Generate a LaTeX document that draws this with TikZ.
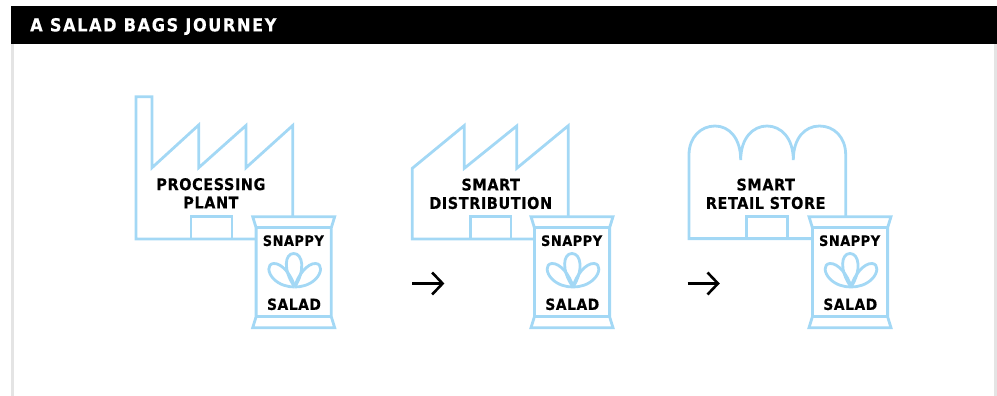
\documentclass[tikz,border=0pt]{standalone}
\usepackage{fontspec}
\setmainfont{DejaVu Sans}
\newfontfamily\lbl[LetterSpace=3.4,FakeBold=0.25]{DejaVu Sans Condensed Bold}
\newfontfamily\snp[LetterSpace=3.5,FakeBold=0.25]{DejaVu Sans Condensed Bold}
\newfontfamily\ttl[LetterSpace=8.6,FakeBold=0.25]{DejaVu Sans Condensed Bold}
\definecolor{sky}{HTML}{A3D8F5}
\definecolor{edgegrey}{HTML}{E4E4E4}
\tikzset{
  x=1pt,y=-1pt,
  outline/.style={draw=sky,line width=2.8pt,line join=miter,miter limit=10},
  lbltext/.style={inner sep=0pt,align=center,font=\lbl\fontsize{16.1}{18.4}\selectfont,text=black},
  bagtext/.style={inner sep=0pt,font=\snp\fontsize{14.4}{17}\selectfont,text=black},
  bagtextwide/.style={inner sep=0pt,font=\snp\fontsize{15.4}{17}\selectfont,text=black},
  goarrow/.style={draw=black,line width=2.6pt},
  bag/.pic={
    \path[outline,fill=white] (-41,216.7) -- (41,216.7) -- (37.6,227.7) -- (37.6,316.7) -- (41,327.7) -- (-41,327.7) -- (-37.6,316.7) -- (-37.6,227.7) -- cycle;
    \draw[outline] (-37.6,227.7) -- (37.6,227.7) (-37.6,316.7) -- (37.6,316.7);
    \draw[outline,line join=round] (1,287) .. controls (-11,270) and (-9,253.5) .. (0,253.5) .. controls (9,253.5) and (12,270) .. (1,287);
    \draw[outline,line join=round] (1,287) .. controls (-2,275) and (-12,263) .. (-20,263.5) .. controls (-27,264) and (-26,273) .. (-20,279) .. controls (-14,285) and (-6,287) .. (1,287);
    \draw[outline,line join=round] (1,287) .. controls (4,275) and (14,263) .. (22,263.5) .. controls (29,264) and (28,273) .. (22,279) .. controls (16,285) and (8,287) .. (1,287);
    \node[bagtext] (-snappy) at (-0.4,240.7) {SNAPPY};
    \node[bagtextwide] (-salad) at (0.3,304.3) {SALAD};
  },
}
\begin{document}
\begin{tikzpicture}
\useasboundingbox (0,0) rectangle (997,396);
\fill[edgegrey] (11,44) rectangle (14,396);
\fill[edgegrey] (994,44) rectangle (997,396);
\node[fill=black,minimum width=986pt,minimum height=38pt,inner sep=0pt,anchor=north west] (header) at (11,6) {};
\node[anchor=west,inner sep=0pt,text=white,font=\ttl\fontsize{18}{20}\selectfont] (title) at (30,26.5) {A SALAD BAGS JOURNEY};

% factory 1
\draw[outline] (255,239) -- (136,239) -- (136,96.7) -- (152,96.7) -- (152,167.7) -- (198.7,125) -- (198.7,167.7) -- (246,125.5) -- (246,167.7) -- (292.7,125.5) -- (292.7,218);
\draw[outline] (191,239) -- (191,216.7) -- (232,216.7) -- (232,239);
\node[lbltext] (plant) at (210.9,193.3) {PROCESSING\\PLANT};
\pic (bagA) at (293.7,0) {bag};

% factory 2
\draw[outline] (533,239) -- (412.3,239) -- (412.3,168.3) -- (464.3,125.5) -- (464.3,168.3) -- (516.7,126) -- (516.7,168.3) -- (568.3,125.7) -- (568.3,218);
\draw[outline] (470.7,239) -- (470.7,216.7) -- (511,216.7) -- (511,239);
\node[lbltext] (dist) at (490.7,193.8) {SMART\\DISTRIBUTION};
\pic (bagB) at (572,0) {bag};

% store
\draw[outline] (811,238.6) -- (689,238.6) -- (689,155) .. controls (689,137) and (701,126) .. (715,126) .. controls (729,126) and (740.7,138) .. (740.7,160) .. controls (740.7,138) and (753,126) .. (767,126) .. controls (781,126) and (793.3,138) .. (793.3,160) .. controls (793.3,138) and (805,126) .. (819.5,126) .. controls (834,126) and (845.7,137) .. (845.7,155) -- (845.7,218);
\draw[outline] (746.7,238.6) -- (746.7,216.7) -- (787.3,216.7) -- (787.3,238.6);
\node[lbltext] (store) at (765.7,193.8) {SMART\\RETAIL STORE};
\pic (bagC) at (850,0) {bag};

% arrows
\coordinate (a1s) at (412.2,283.5);
\coordinate (a1e) at (442.6,283.5);
\coordinate (a2s) at (687.6,283.5);
\coordinate (a2e) at (718,283.5);
\draw[goarrow] (a1s) -- (a1e);
\draw[goarrow] (a2s) -- (a2e);
\draw[goarrow] ([shift={(-10.5,-11)}]a1e) -- (a1e) -- ([shift={(-10.5,11)}]a1e);
\draw[goarrow] ([shift={(-10.5,-11)}]a2e) -- (a2e) -- ([shift={(-10.5,11)}]a2e);
\end{tikzpicture}
\end{document}
